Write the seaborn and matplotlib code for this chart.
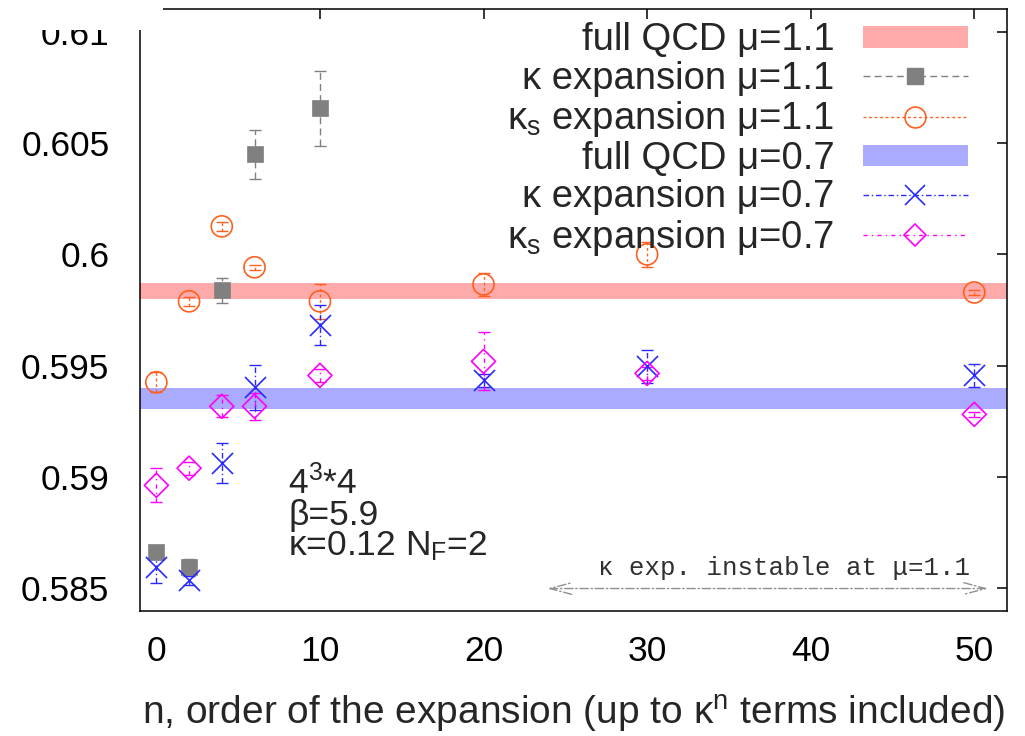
import numpy as np
import matplotlib
matplotlib.use("Agg")
import matplotlib.pyplot as plt
from matplotlib.lines import Line2D
from matplotlib.patches import Patch, Rectangle
import seaborn as sns

# ---------------- data ----------------
xticks = [0, 10, 20, 30, 40, 50]
yticks = [0.585, 0.59, 0.595, 0.6, 0.605, 0.61]
ytick_labels = ["0.585", "0.59", "0.595", "0.6", "0.605", "0.61"]

# full QCD bands (center, half width)
qcd11_center, qcd11_hw = 0.59834, 0.00036
qcd07_center, qcd07_hw = 0.59351, 0.00047

# kappa expansion mu=1.1
k11_n = [0, 2, 4, 6, 10]
k11_v = [0.58661, 0.58594, 0.59838, 0.60449, 0.60656]
k11_e = [0.00030, 0.00035, 0.00055, 0.00110, 0.00170]

# kappa_s expansion mu=1.1
ks11_n = [0, 2, 4, 6, 10, 20, 30, 50]
ks11_v = [0.59425, 0.59789, 0.60126, 0.59942, 0.59789, 0.59865, 0.60000, 0.59829]
ks11_e = [0.00045, 0.00020, 0.00020, 0.00010, 0.00080, 0.00050, 0.00055, 0.00010]

# kappa expansion mu=0.7
k07_n = [0, 2, 4, 6, 10, 20, 30, 50]
k07_v = [0.58594, 0.58536, 0.59061, 0.59402, 0.59681, 0.59434, 0.59497, 0.59456]
k07_e = [0.00070, 0.00020, 0.00090, 0.00100, 0.00090, 0.00030, 0.00075, 0.00050]

# kappa_s expansion mu=0.7
ks07_n = [0, 2, 4, 6, 10, 20, 30, 50]
ks07_v = [0.58962, 0.59039, 0.59317, 0.59317, 0.59456, 0.59519, 0.59465, 0.59281]
ks07_e = [0.00077, 0.00030, 0.00050, 0.00060, 0.00030, 0.00130, 0.00030, 0.00010]

labels = ["full QCD μ=1.1", "κ expansion μ=1.1", r"κ$_{\mathrm{s}}$ expansion μ=1.1",
          "full QCD μ=0.7", "κ expansion μ=0.7", r"κ$_{\mathrm{s}}$ expansion μ=0.7"]

# ---------------- style ----------------
sns.set_theme(style="white")
plt.rcParams["font.family"] = ["Liberation Sans", "DejaVu Sans"]
plt.rcParams["mathtext.fontset"] = "custom"
plt.rcParams["mathtext.rm"] = "Liberation Sans"
plt.rcParams["mathtext.it"] = "Liberation Sans"
plt.rcParams["mathtext.bf"] = "Liberation Sans:bold"
FS_TICK = 25.5
FS_LEG = 27.5
FS_LAB = 28
FS_ANN = 25.5

c_red_band = "#ffaaaa"
c_blue_band = "#aaaaff"
c_gray = "#808080"
c_orange = "#ff6020"
c_blue = "#2a2aff"
c_mag = "#ff00ff"

fig = plt.figure(figsize=(10.25, 7.36), dpi=100)
ax = fig.add_axes([140 / 1025, 1 - 611 / 736, (1007 - 140) / 1025, (611 - 9) / 736])
ax.set_facecolor("white")
ax.set_xlim(-1, 52)
ax.set_ylim(0.58397, 0.61103)

# bands
ax.axhspan(qcd11_center - qcd11_hw, qcd11_center + qcd11_hw, color=c_red_band, lw=0, zorder=1)
ax.axhspan(qcd07_center - qcd07_hw, qcd07_center + qcd07_hw, color=c_blue_band, lw=0, zorder=1)


def errbars(n, v, e, color, ls):
    cont = ax.errorbar(n, v, yerr=e, fmt="none", ecolor=color, elinewidth=1.0,
                       capsize=4, capthick=1.0, zorder=2)
    for lc in cont.lines[2]:
        lc.set_linestyle(ls)


errbars(k11_n, k11_v, k11_e, c_gray, (0, (5, 3)))
errbars(ks11_n, ks11_v, ks11_e, c_orange, (0, (2, 2)))
errbars(k07_n, k07_v, k07_e, c_blue, (0, (4, 2, 1, 2)))
errbars(ks07_n, ks07_v, ks07_e, c_mag, (0, (3, 3, 1, 3)))

sns.scatterplot(x=k11_n, y=k11_v, marker="s", s=125, color=c_gray, edgecolor=c_gray,
                linewidth=0.5, ax=ax, zorder=3, legend=False)
sns.scatterplot(x=ks11_n, y=ks11_v, marker="o", s=230, facecolor="none", edgecolor=c_orange,
                linewidth=1.2, ax=ax, zorder=3, legend=False)
sns.scatterplot(x=k07_n, y=k07_v, marker="x", s=230, color=c_blue,
                linewidth=1.2, ax=ax, zorder=3, legend=False)
sns.scatterplot(x=ks07_n, y=ks07_v, marker="D", s=150, facecolor="none", edgecolor=c_mag,
                linewidth=1.2, ax=ax, zorder=3, legend=False)

# axes styling
ax.set_xticks(xticks)
ax.set_xticklabels([str(t) for t in xticks])
ax.set_yticks(yticks)
ax.set_yticklabels(ytick_labels)
ax.tick_params(axis="both", which="both", direction="in", length=7, width=1.1,
               top=True, right=True, labelsize=FS_TICK, colors="black")
ax.tick_params(axis="x", pad=17)
ax.tick_params(axis="y", pad=22)
for sp in ax.spines.values():
    sp.set_color("black")
    sp.set_linewidth(1.1)
ax.grid(False)
ax.set_xlabel(r"n, order of the expansion (up to κ$^{\mathrm{n}}$ terms included)", fontsize=FS_LAB,
              labelpad=18)

# annotation text
ax.text(8.05, 0.58926, r"4$^{3}$*4", fontsize=FS_ANN, ha="left", va="baseline")
ax.text(8.05, 0.58783, "β=5.9", fontsize=FS_ANN, ha="left", va="baseline")
ax.text(8.05, 0.58648, r"κ=0.12 N$_{\mathrm{F}}$=2", fontsize=FS_ANN, ha="left", va="baseline")

ax.annotate("", xy=(23.9, 0.58498), xytext=(50.85, 0.58498),
            arrowprops=dict(arrowstyle="<->,head_length=1.3,head_width=0.35",
                            color="#909090", lw=1.0, linestyle=(0, (6, 2, 1, 2)),
                            shrinkA=0, shrinkB=0))
ax.text(38.35, 0.58558, "κ exp. instable at μ=1.1", fontsize=18.5, ha="center",
        va="baseline", color="#303030", family=["Liberation Mono", "DejaVu Sans Mono"])

# legend
handles = [
    Patch(facecolor=c_red_band, edgecolor="none"),
    Line2D([], [], color=c_gray, ls=(0, (5, 3)), lw=1.0, marker="s", markersize=11,
           markerfacecolor=c_gray, markeredgecolor=c_gray),
    Line2D([], [], color=c_orange, ls=(0, (2, 2)), lw=1.0, marker="o", markersize=15,
           markerfacecolor="none", markeredgecolor=c_orange, markeredgewidth=1.2),
    Patch(facecolor=c_blue_band, edgecolor="none"),
    Line2D([], [], color=c_blue, ls=(0, (4, 2, 1, 2)), lw=1.0, marker="x", markersize=15,
           markeredgecolor=c_blue, markeredgewidth=1.2),
    Line2D([], [], color=c_mag, ls=(0, (3, 3, 1, 3)), lw=1.0, marker="D", markersize=11,
           markerfacecolor="none", markeredgecolor=c_mag, markeredgewidth=1.2),
]
leg = ax.legend(handles, labels, loc="upper right", bbox_to_anchor=(0.955, 0.978),
                frameon=False, markerfirst=False, fontsize=FS_LEG, handlelength=105 / (FS_LEG * 100 / 72),
                handletextpad=0.75, borderpad=0, borderaxespad=0, labelspacing=0.06,
                numpoints=1, handleheight=0.5)
for t in leg.get_texts():
    t.set_ha("right")

# white cover over the clipped top-left corner, as in the reference
fig.add_artist(Rectangle((0, 1 - 30 / 736), 163 / 1025, 30 / 736, transform=fig.transFigure,
                         facecolor="white", edgecolor="none", zorder=20))

fig.savefig("out.png", dpi=100, facecolor="white")
